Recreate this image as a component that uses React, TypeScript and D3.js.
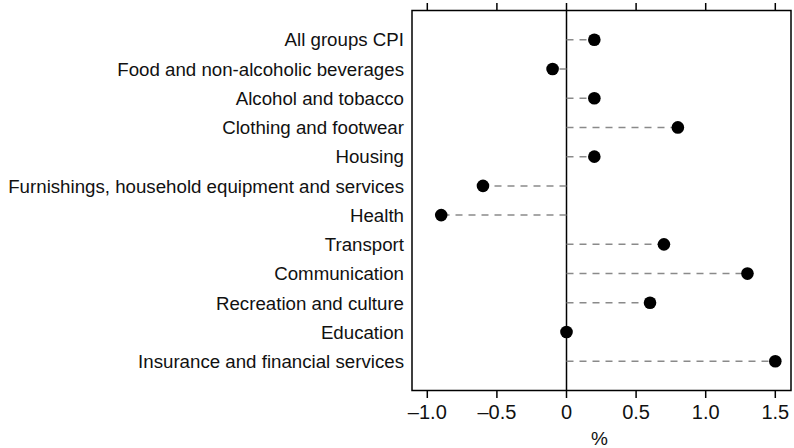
import React from "react";
import * as d3 from "d3";

const categories = [
  "All groups CPI",
  "Food and non-alcoholic beverages",
  "Alcohol and tobacco",
  "Clothing and footwear",
  "Housing",
  "Furnishings, household equipment and services",
  "Health",
  "Transport",
  "Communication",
  "Recreation and culture",
  "Education",
  "Insurance and financial services",
];
const values = [0.2, -0.1, 0.2, 0.8, 0.2, -0.6, -0.9, 0.7, 1.3, 0.6, 0.0, 1.5];
const tickValues = [-1.0, -0.5, 0, 0.5, 1.0, 1.5];
const tickLabels = ["\u20131.0", "\u20130.5", "0", "0.5", "1.0", "1.5"];
const axisTitle = "%";

const W = 794;
const H = 448;
const left = 412;
const right = 791;
const top = 10.5;
const bottom = 390.5;
const FONT = "'Liberation Sans', Arial, sans-serif";

export default function App() {
  const x = d3.scaleLinear().domain([0, 1.5]).range([566.5, 775.3]);
  const y = d3.scalePoint<string>().domain(categories).range([top, bottom]).padding(1);
  const x0 = x(0);

  return (
    <svg width={W} height={H} style={{ position: "absolute", left: 0, top: 0 }} fontFamily={FONT}>
      <rect x={left} y={top} width={right - left} height={bottom - top} fill="none" stroke="#000" strokeWidth={1.5} />
      {tickValues.map((t, i) => (
        <g key={i}>
          <line x1={x(t)} x2={x(t)} y1={top} y2={top - 7.5} stroke="#000" strokeWidth={1.5} />
          <line x1={x(t)} x2={x(t)} y1={bottom} y2={bottom + 7.5} stroke="#000" strokeWidth={1.5} />
          <text x={x(t)} y={419} textAnchor="middle" fontSize={20} fill="#111">
            {tickLabels[i]}
          </text>
        </g>
      ))}
      <text x={599.5} y={444.5} textAnchor="middle" fontSize={19} fill="#111">
        {axisTitle}
      </text>
      <line x1={x0} x2={x0} y1={top} y2={bottom} stroke="#000" strokeWidth={1.5} />
      {categories.map((c, i) => {
        const cy = y(c) as number;
        return (
          <g key={c}>
            <text x={404} y={cy} dy="0.36em" textAnchor="end" fontSize={18.7} fill="#111">
              {c}
            </text>
            {values[i] !== 0 && (
              <line x1={x0} x2={x(values[i])} y1={cy} y2={cy} stroke="#8a8a8a" strokeWidth={1.5} strokeDasharray="7,6" />
            )}
            <circle cx={x(values[i])} cy={cy} r={6.3} fill="#000" />
          </g>
        );
      })}
    </svg>
  );
}
